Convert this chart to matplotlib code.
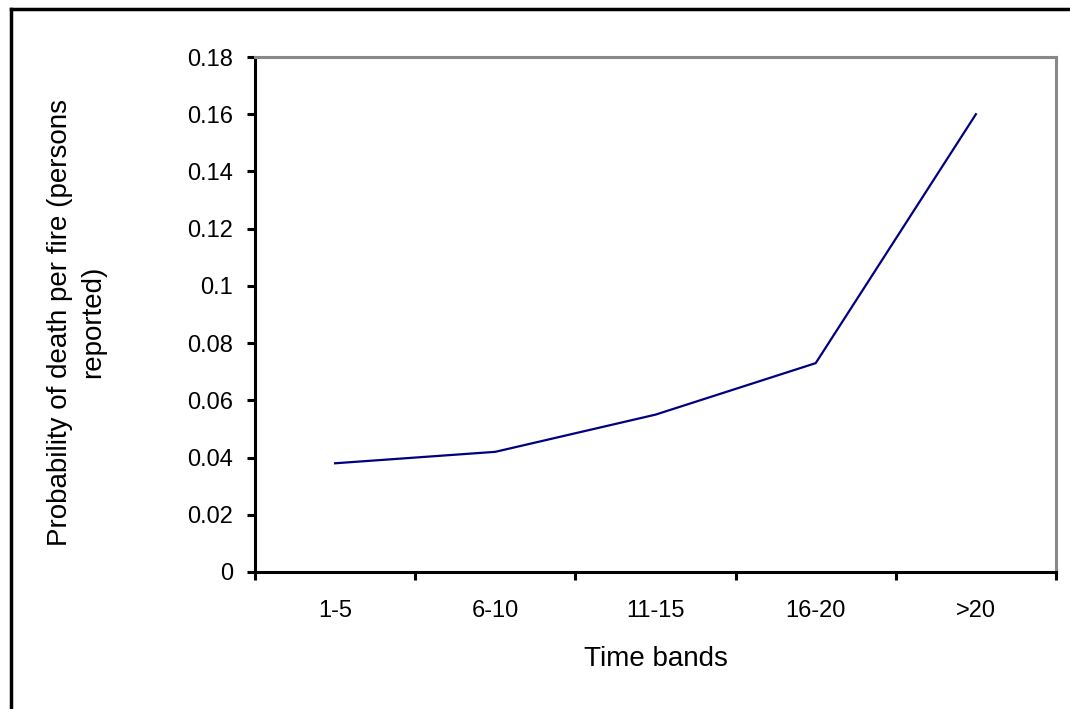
import matplotlib.pyplot as plt
from matplotlib.lines import Line2D

plt.rcParams["font.family"] = ["Liberation Sans", "DejaVu Sans"]

# --- DATA
BANDS = ["1-5", "6-10", "11-15", "16-20", ">20"]
PROB_DEATH = [0.038, 0.042, 0.055, 0.073, 0.160]
Y_TICKS = [0, 0.02, 0.04, 0.06, 0.08, 0.1, 0.12, 0.14, 0.16, 0.18]

LINE_COLOR = "#000080"
FONT_SIZE = 17
LABEL_SIZE = 20


def main():
    fig = plt.figure(figsize=(10.70, 7.09), dpi=100)
    ax = fig.add_axes([255 / 1070, 1 - 572 / 709, 801 / 1070, 515 / 709])

    x = list(range(len(BANDS)))
    ax.plot(x, PROB_DEATH, color=LINE_COLOR, linewidth=1.6)

    ax.set_xlim(-0.5, len(BANDS) - 0.5)
    ax.set_ylim(Y_TICKS[0], Y_TICKS[-1])

    # category boundaries get tick marks, centres get the labels
    ax.set_xticks([i - 0.5 for i in range(len(BANDS) + 1)])
    ax.set_xticklabels([])
    ax.set_xticks(x, minor=True)
    ax.set_xticklabels(BANDS, minor=True, fontsize=FONT_SIZE)
    ax.tick_params(axis="x", which="major", direction="out", length=6, width=2.2)
    ax.tick_params(axis="x", which="minor", length=0, pad=20)

    ax.set_yticks(Y_TICKS)
    ax.set_yticklabels([f"{v:g}" for v in Y_TICKS], fontsize=FONT_SIZE)
    ax.tick_params(axis="y", direction="out", length=6, width=2.2, pad=10)

    for side in ("left", "bottom"):
        ax.spines[side].set_color("black")
        ax.spines[side].set_linewidth(2.2)
    for side in ("top", "right"):
        ax.spines[side].set_color("#888888")
        ax.spines[side].set_linewidth(2.2)

    ax.set_xlabel("Time bands", fontsize=LABEL_SIZE, va="center")
    ax.xaxis.set_label_coords(0.5, (572 - 659) / 515)
    ax.set_ylabel(
        "Probability of death per fire (persons\nreported)",
        fontsize=LABEL_SIZE,
        linespacing=1.35,
        va="center",
    )
    ax.yaxis.set_label_coords((77 - 255) / 801, (572 - 322) / 515)

    # outer chart frame (only top and left edges show in the crop)
    fig.add_artist(Line2D([11 / 1070, 11 / 1070], [0, 1 - 9 / 709], color="black",
                          linewidth=2.5, transform=fig.transFigure))
    fig.add_artist(Line2D([11 / 1070, 1], [1 - 9 / 709, 1 - 9 / 709], color="black",
                          linewidth=2.5, transform=fig.transFigure))

    fig.savefig("out.png", dpi=100)


if __name__ == "__main__":
    main()
